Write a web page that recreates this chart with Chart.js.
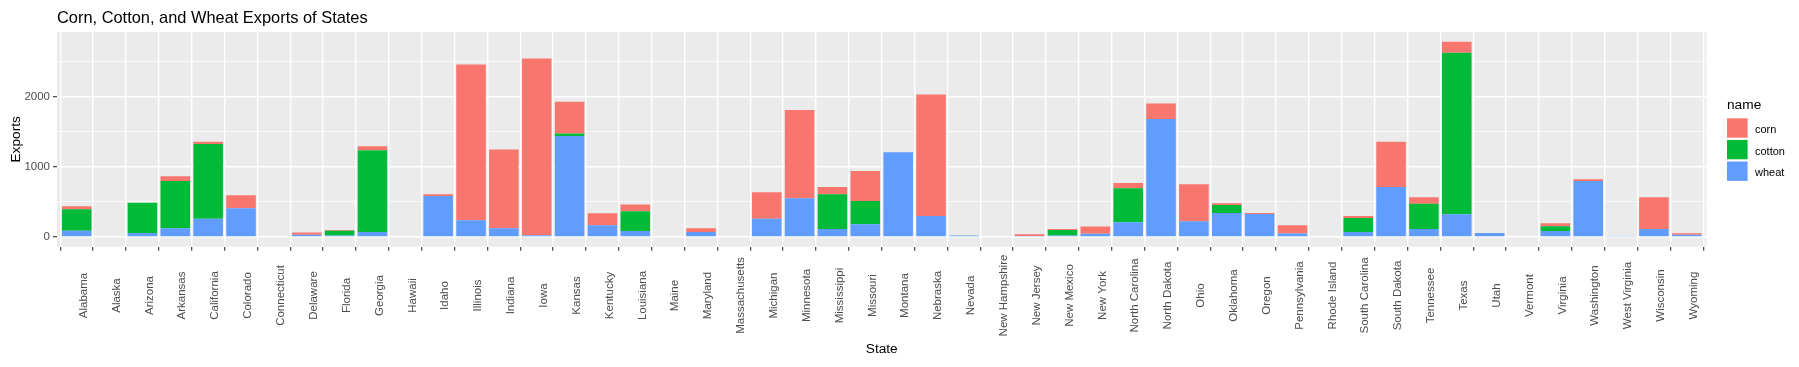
<!DOCTYPE html>
<html>
<head>
<meta charset="utf-8">
<script src="https://cdn.jsdelivr.net/npm/chart.js@4.4.1/dist/chart.umd.min.js"></script>
<style>
  html, body { margin: 0; padding: 0; background: #ffffff; }
  #wrap { width: 1799px; height: 367px; }
  canvas { display: block; }
</style>
</head>
<body>
<div id="wrap"><canvas id="c" width="1799" height="367"></canvas></div>
<script>
const categories = ["Alabama","Alaska","Arizona","Arkansas","California","Colorado","Connecticut","Delaware","Florida","Georgia","Hawaii","Idaho","Illinois","Indiana","Iowa","Kansas","Kentucky","Louisiana","Maine","Maryland","Massachusetts","Michigan","Minnesota","Mississippi","Missouri","Montana","Nebraska","Nevada","New Hampshire","New Jersey","New Mexico","New York","North Carolina","North Dakota","Ohio","Oklahoma","Oregon","Pennsylvania","Rhode Island","South Carolina","South Dakota","Tennessee","Texas","Utah","Vermont","Virginia","Washington","West Virginia","Wisconsin","Wyoming"];

const wheat = [90,0,57,124,261,409,0,33,19,71,0,584,238,124,24,1439,166,86,0,71,0,261,551,114,181,1207,297,20,0,15,19,45,209,1682,223,342,328,48,0,71,713,114,323,57,0,86,798,15,114,33];

const cotton = [304,0,432,674,1064,0,0,0,71,1164,0,0,0,0,0,38,0,280,0,0,0,0,0,494,332,0,0,0,0,0,81,0,485,0,0,114,0,0,0,200,0,361,2304,0,0,66,0,0,0,0];

const corn = [43,0,0,67,34,185,0,29,10,57,0,24,2223,1125,2522,452,171,95,0,53,0,376,1259,105,428,0,1736,0,0,23,14,103,76,223,528,24,14,118,0,28,646,90,157,0,0,43,24,0,451,19];

const yTicks = [0, 500, 1000, 1500, 2000, 2500];
const yTickLabels = ["0", "", "1000", "", "2000", ""];
const seriesNames = ["corn", "cotton", "wheat"];
const seriesColors = { corn: "#F8766D", cotton: "#00BA38", wheat: "#619CFF" };

const titleText = "Corn, Cotton, and Wheat Exports of States";
const xTitle = "State";
const yTitle = "Exports";
const legendTitle = "name";

const FONT = '"Liberation Sans", Arial, Helvetica, sans-serif';

const totals = categories.map((_, i) => wheat[i] + cotton[i] + corn[i]);
const maxTotal = Math.max(...totals);
const yMin = -0.05 * maxTotal;
const yMax = 1.05 * maxTotal;

function pts(arr) { return arr.map((v, i) => ({ x: i, y: v })); }

const decor = {
  id: 'ggDecor',
  beforeDraw(chart) {
    const ctx = chart.ctx, ca = chart.chartArea;
    ctx.save();
    ctx.fillStyle = '#FFFFFF';
    ctx.fillRect(0, 0, chart.width, chart.height);
    ctx.fillStyle = '#EBEBEB';
    ctx.fillRect(ca.left, ca.top, ca.right - ca.left, ca.bottom - ca.top);
    ctx.restore();
  },
  afterDraw(chart) {
    const ctx = chart.ctx, ca = chart.chartArea;
    ctx.save();
    ctx.fillStyle = '#000000';
    ctx.textAlign = 'left';
    ctx.textBaseline = 'alphabetic';
    ctx.font = '16.4px ' + FONT;
    ctx.fillText(titleText, ca.left, 23);
    ctx.font = '13.7px ' + FONT;
    ctx.textAlign = 'center';
    ctx.fillText(xTitle, (ca.left + ca.right) / 2, 352.5);
    ctx.save();
    ctx.translate(20, (ca.top + ca.bottom) / 2);
    ctx.rotate(-Math.PI / 2);
    ctx.textAlign = 'center';
    ctx.fillText(yTitle, 0, 0);
    ctx.restore();
    const xs = chart.scales.x;
    ctx.font = '11.5px ' + FONT;
    ctx.fillStyle = '#4D4D4D';
    categories.forEach((c, i) => {
      const px = xs.getPixelForValue(i);
      ctx.save();
      ctx.translate(px, 295.5);
      ctx.rotate(-Math.PI / 2);
      ctx.textAlign = 'center';
      ctx.textBaseline = 'alphabetic';
      ctx.fillText(c, 0, 10.2);
      ctx.restore();
    });
    const lx = 1727;
    ctx.fillStyle = '#000000';
    ctx.textAlign = 'left';
    ctx.font = '13.7px ' + FONT;
    ctx.fillText(legendTitle, lx, 109.3);
    ctx.font = '11px ' + FONT;
    const keyTops = [118.3, 139.9, 161.5];
    seriesNames.forEach((n, k) => {
      ctx.fillStyle = seriesColors[n];
      ctx.fillRect(lx, keyTops[k], 20.6, 19.4);
      ctx.fillStyle = '#000000';
      ctx.fillText(n, 1755, keyTops[k] + 9.7 + 4.9);
    });
    ctx.restore();
  }
};

new Chart(document.getElementById('c'), {
  type: 'bar',
  data: {
    datasets: [
      { label: 'wheat', data: pts(wheat), backgroundColor: seriesColors.wheat },
      { label: 'cotton', data: pts(cotton), backgroundColor: seriesColors.cotton },
      { label: 'corn', data: pts(corn), backgroundColor: seriesColors.corn }
    ]
  },
  options: {
    responsive: false,
    devicePixelRatio: 1,
    animation: false,
    events: [],
    layout: { padding: { top: 32, right: 92.5, left: 0, bottom: 0 } },
    datasets: { bar: { barPercentage: 0.9, categoryPercentage: 1.0, borderWidth: 0 } },
    plugins: {
      legend: { display: false },
      title: { display: false },
      tooltip: { enabled: false }
    },
    scales: {
      x: {
        type: 'linear',
        min: -0.6,
        max: categories.length - 1 + 0.6,
        stacked: true,
        offset: false,
        afterBuildTicks: s => { s.ticks = categories.map((_, i) => ({ value: i })); },
        afterFit: s => { s.height = 120.3; },
        ticks: { display: false, autoSkip: false },
        grid: { color: '#FFFFFF', lineWidth: 1.4, drawTicks: true, tickLength: 4, tickColor: '#333333', tickWidth: 1.1 },
        border: { display: false }
      },
      y: {
        type: 'linear',
        min: yMin,
        max: yMax,
        stacked: true,
        afterBuildTicks: s => { s.ticks = yTicks.map(v => ({ value: v })); },
        afterFit: s => { s.width = 57; },
        ticks: {
          autoSkip: false,
          padding: 3,
          color: '#4D4D4D',
          font: { size: 11.5, family: FONT },
          callback: v => { const k = yTicks.indexOf(v); return k >= 0 ? yTickLabels[k] : ''; }
        },
        grid: {
          color: '#FFFFFF',
          lineWidth: c => (c.tick && c.tick.value % 1000 === 0) ? 1.4 : 0.7,
          drawTicks: true,
          tickLength: 4,
          tickWidth: 1.1,
          tickColor: c => (c.tick && c.tick.value % 1000 === 0) ? '#333333' : 'rgba(0,0,0,0)'
        },
        border: { display: false }
      }
    }
  },
  plugins: [decor]
});
</script>
</body>
</html>
